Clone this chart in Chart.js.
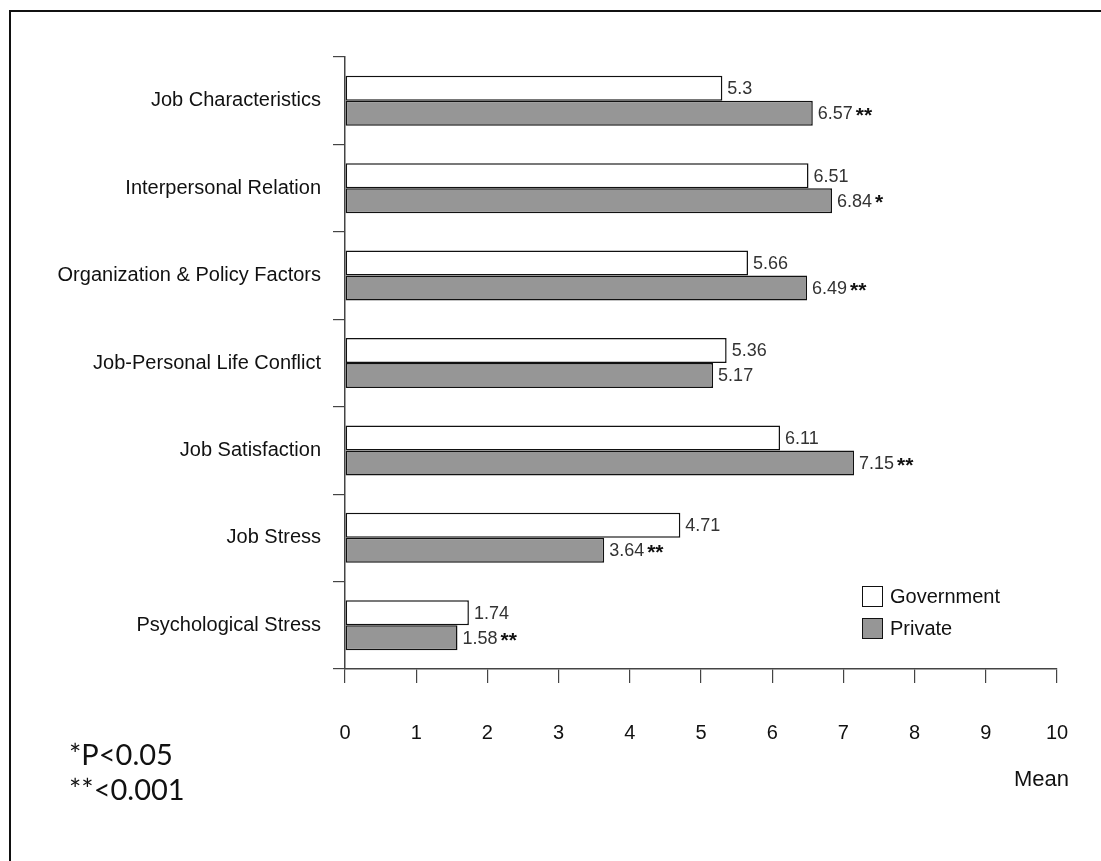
<!DOCTYPE html>
<html>
<head>
<meta charset="utf-8">
<script src="https://cdn.jsdelivr.net/npm/chart.js@4.4.1/dist/chart.umd.min.js"></script>
<style>
    html, body { margin: 0; padding: 0; background: #fff; overflow: hidden; }
    #wrap { position: relative; width: 1101px; height: 861px; }
    #frame { position: absolute; left: 9px; top: 10px; width: 1200px; height: 1000px; border: 2px solid #111; box-sizing: border-box; }
    canvas { position: absolute; left: 0; top: 0; }
    .note { position: absolute; font-family: Lato, 'Open Sans', sans-serif; font-size: 29px; color: #111; line-height: 35px; }
    .mean { position: absolute; font-family: 'Liberation Sans', Arial, sans-serif; font-size: 22px; color: #111; }
    #legend { position: absolute; left: 862px; top: 580px; font-family: 'Liberation Sans', Arial, sans-serif; font-size: 20px; color: #111; }
    .legend-item { display: flex; align-items: center; height: 32px; }
    .legend-box { width: 21px; height: 21px; border: 1.5px solid #111; box-sizing: border-box; margin-right: 7px; }
</style>
</head>
<body>
<div id="wrap">
    <div id="frame"></div>
    <canvas id="meanChart" width="1101" height="861"></canvas>
    <div class="note" style="left: 69px; top: 736px;">*P&lt;0.05<br>**&lt;0.001</div>
    <div class="mean" style="left: 1014px; top: 766px;">Mean</div>
    <div id="legend"></div>
</div>
<script>
const categories = [
    'Job Characteristics',
    'Interpersonal Relation',
    'Organization & Policy Factors',
    'Job-Personal Life Conflict',
    'Job Satisfaction',
    'Job Stress',
    'Psychological Stress'
];
const governmentValues = [5.3, 6.51, 5.66, 5.36, 6.11, 4.71, 1.74];
const privateValues = [6.57, 6.84, 6.49, 5.17, 7.15, 3.64, 1.58];
const governmentStars = ['', '', '', '', '', '', ''];
const privateStars = ['**', '*', '**', '', '**', '**', '**'];
const xTicks = [0, 1, 2, 3, 4, 5, 6, 7, 8, 9, 10];

const baseFont = "'Liberation Sans', Arial, sans-serif";

// value labels at the end of each bar, with significance stars in bold
const valueLabels = {
    id: 'valueLabels',
    afterDatasetsDraw(chart) {
        const ctx = chart.ctx;
        ctx.save();
        ctx.textBaseline = 'middle';
        ctx.textAlign = 'left';
        chart.data.datasets.forEach((ds, i) => {
            const meta = chart.getDatasetMeta(i);
            meta.data.forEach((bar, j) => {
                const text = String(ds.data[j]);
                const x = bar.x + 5;
                const y = bar.y + 1;
                ctx.font = '18px ' + baseFont;
                ctx.fillStyle = '#333';
                ctx.fillText(text, x, y);
                const stars = ds.stars[j];
                if (stars) {
                    const w = ctx.measureText(text).width;
                    ctx.font = 'bold 21px ' + baseFont;
                    ctx.fillStyle = '#111';
                    ctx.fillText(stars, x + w + 3, y + 2);
                }
            });
        });
        ctx.restore();
    }
};

const ctx = document.getElementById('meanChart').getContext('2d');
const meanChart = new Chart(ctx, {
    type: 'bar',
    data: {
        labels: categories,
        datasets: [
            {
                label: 'Government',
                data: governmentValues,
                stars: governmentStars,
                backgroundColor: '#ffffff',
                borderColor: '#111',
                borderWidth: 1.5,
                borderSkipped: false
            },
            {
                label: 'Private',
                data: privateValues,
                stars: privateStars,
                backgroundColor: '#969696',
                borderColor: '#111',
                borderWidth: 1.5,
                borderSkipped: false
            }
        ]
    },
    options: {
        indexAxis: 'y',
        responsive: false,
        animation: false,
        categoryPercentage: 0.572,
        barPercentage: 1.0,
        layout: { padding: { top: 57, right: 44, left: 0, bottom: 0 } },
        plugins: {
            legend: { display: false },
            tooltip: { enabled: false }
        },
        scales: {
            x: {
                min: 0,
                max: 10,
                afterFit: scale => {
                    scale.height = 192;
                    // tick padding would otherwise widen the right margin
                    scale.paddingLeft = 0;
                    scale.paddingRight = 0;
                },
                afterBuildTicks: scale => { scale.ticks = xTicks.map(v => ({ value: v })); },
                grid: { drawOnChartArea: false, drawTicks: true, tickLength: 14, color: '#444', lineWidth: 1.2 },
                border: { display: true, color: '#444', width: 1.5 },
                ticks: {
                    padding: 38,
                    color: '#111',
                    font: { family: baseFont, size: 20 }
                }
            },
            y: {
                afterFit: scale => { scale.width = 345; },
                grid: { drawOnChartArea: false, drawTicks: true, tickLength: 12, color: '#444', lineWidth: 1.2, offset: true },
                border: { display: true, color: '#444', width: 1.5 },
                ticks: {
                    padding: 12,
                    color: '#111',
                    font: { family: baseFont, size: 20 }
                }
            }
        }
    },
    plugins: [valueLabels]
});

// legend drawn as html, built from the datasets
const legendEl = document.getElementById('legend');
meanChart.data.datasets.forEach(ds => {
    const item = document.createElement('div');
    item.className = 'legend-item';
    const box = document.createElement('span');
    box.className = 'legend-box';
    box.style.background = ds.backgroundColor;
    const label = document.createElement('span');
    label.textContent = ds.label;
    item.appendChild(box);
    item.appendChild(label);
    legendEl.appendChild(item);
});
</script>
</body>
</html>
